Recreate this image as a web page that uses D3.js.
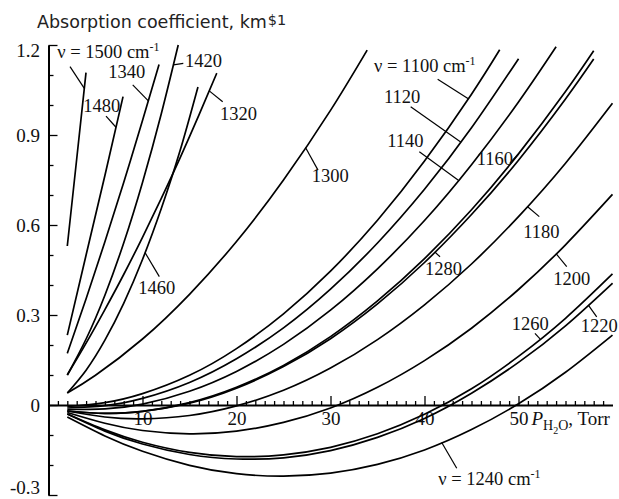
<!DOCTYPE html>
<html>
<head>
<meta charset="utf-8">
<script src="https://cdn.jsdelivr.net/npm/d3@7"></script>
<style>
  body { margin: 0; background: #fff; }
  svg { display: block; }
</style>
</head>
<body>
<svg id="chart" width="619" height="499"></svg>
<script>
// Absorption coefficient (km^-1) against water-vapour pressure (Torr), one curve per wavenumber.
const p1500 = [2, 3, 3.99];
const k1500 = [0.53, 0.82, 1.108];
const p1480 = [2, 4, 6, 7.93];
const k1480 = [0.233, 0.50, 0.765, 1.028];
const p1340 = [2, 4, 6, 8, 10, 11.76];
const k1340 = [0.172, 0.354, 0.544, 0.742, 0.948, 1.135];
const p1420 = [2, 4, 6, 8, 10, 12, 13.8];
const k1420 = [0.10, 0.22, 0.366, 0.54, 0.742, 0.971, 1.20];
const p1460 = [2, 4, 6, 8, 10, 12, 14, 15.9];
const k1460 = [0.04, 0.116, 0.216, 0.339, 0.485, 0.655, 0.848, 1.06];
const p1320 = [2, 4, 6, 8, 10, 12, 14, 16, 17.9];
const k1320 = [0.10, 0.206, 0.318, 0.435, 0.559, 0.689, 0.824, 0.966, 1.106];
const p1300 = [2, 5, 10, 15, 20, 25, 30, 33.9];
const k1300 = [0.04, 0.099, 0.22, 0.369, 0.545, 0.75, 0.982, 1.183];

const p1100 = [2, 6, 10, 15, 20, 25, 30, 35, 40, 45, 48];
const k1100 = [-0.005, 0.008, 0.038, 0.099, 0.188, 0.304, 0.446, 0.616, 0.813, 1.036, 1.184];
const p1120 = [2, 6, 10, 15, 20, 25, 30, 35, 40, 45, 50];
const k1120 = [-0.01, -0.002, 0.022, 0.075, 0.154, 0.257, 0.386, 0.54, 0.719, 0.924, 1.154];
const p1140 = [2, 6, 10, 15, 20, 25, 30, 35, 40, 45, 50, 54];
const k1140 = [-0.015, -0.013, 0.003, 0.046, 0.112, 0.202, 0.316, 0.454, 0.615, 0.801, 1.01, 1.194];
const p1160 = [2, 6, 10, 15, 20, 25, 30, 35, 40, 45, 50, 55, 58];
const k1160 = [-0.02, -0.028, -0.021, 0.008, 0.059, 0.132, 0.228, 0.347, 0.488, 0.651, 0.837, 1.045, 1.181];
const p1280 = [2, 6, 10, 15, 20, 25, 30, 35, 40, 45, 50, 55, 58];
const k1280 = [-0.02, -0.028, -0.021, 0.006, 0.056, 0.128, 0.221, 0.337, 0.475, 0.635, 0.816, 1.02, 1.153];
const pFull = [2, 6, 10, 15, 20, 25, 30, 35, 40, 45, 50, 55, 60];
const k1180 = [-0.02, -0.04, -0.046, -0.035, -0.003, 0.049, 0.123, 0.218, 0.334, 0.47, 0.628, 0.806, 1.006];
const k1200 = [-0.025, -0.061, -0.085, -0.096, -0.087, -0.058, -0.01, 0.059, 0.148, 0.256, 0.385, 0.534, 0.702];
const k1260 = [-0.03, -0.083, -0.124, -0.158, -0.172, -0.166, -0.141, -0.096, -0.031, 0.054, 0.162, 0.289, 0.437];
const k1220 = [-0.03, -0.087, -0.13, -0.165, -0.18, -0.176, -0.152, -0.108, -0.045, 0.039, 0.142, 0.264, 0.406];
const k1240 = [-0.04, -0.103, -0.154, -0.201, -0.229, -0.237, -0.227, -0.198, -0.15, -0.082, 0.004, 0.109, 0.233];

// Axis ticks and labels
const xMinorTicks = d3.range(1, 60);
const xLabelValues = [10, 20, 30, 40, 50];
const yTickValues = [-0.3, -0.2, -0.1, 0, 0.1, 0.2, 0.3, 0.4, 0.5, 0.6, 0.7, 0.8, 0.9, 1.0, 1.1, 1.2];
const yLabelValues = [-0.3, 0, 0.3, 0.6, 0.9, 1.2];
const yLabelText = ["-0.3", "0", "0.3", "0.6", "0.9", "1.2"];

const series = [
  { nu: 1500, p: p1500, k: k1500 }, { nu: 1480, p: p1480, k: k1480 },
  { nu: 1340, p: p1340, k: k1340 }, { nu: 1420, p: p1420, k: k1420 },
  { nu: 1460, p: p1460, k: k1460 }, { nu: 1320, p: p1320, k: k1320 },
  { nu: 1300, p: p1300, k: k1300 }, { nu: 1100, p: p1100, k: k1100 },
  { nu: 1120, p: p1120, k: k1120 }, { nu: 1140, p: p1140, k: k1140 },
  { nu: 1160, p: p1160, k: k1160 }, { nu: 1280, p: p1280, k: k1280 },
  { nu: 1180, p: pFull, k: k1180 }, { nu: 1200, p: pFull, k: k1200 },
  { nu: 1260, p: pFull, k: k1260 }, { nu: 1220, p: pFull, k: k1220 },
  { nu: 1240, p: pFull, k: k1240 }
];

// Curve labels: text anchor (left, baseline), leader start, and pressure where the leader meets its curve
const labelLayout = [
  { nu: 1500, text: "\u03bd = 1500 cm", sup: "-1", at: [0.93, 1.156], from: [2.29, 1.128], to: 3.81 },
  { nu: 1480, text: "1480", at: [3.70, 0.978], from: [6.12, 0.963], to: 7.18 },
  { nu: 1340, text: "1340", at: [6.36, 1.089], from: [8.96, 1.067], to: 10.62 },
  { nu: 1420, text: "1420", at: [14.52, 1.128], from: [14.34, 1.139], to: 13.28 },
  { nu: 1320, text: "1320", at: [18.24, 0.95], from: [18.53, 1.011], to: 17.1 },
  { nu: 1460, text: "1460", at: [9.55, 0.369], from: [11.79, 0.428], to: 10.27 },
  { nu: 1300, text: "1300", at: [28.0, 0.744], from: [28.67, 0.783], to: 27.34 },
  { nu: 1100, text: "\u03bd = 1100 cm", sup: "-1", at: [34.63, 1.111], from: [41.40, 1.086], to: 44.66 },
  { nu: 1120, text: "1120", at: [35.69, 1.006], from: [38.53, 0.994], to: 43.85 },
  { nu: 1140, text: "1140", at: [36.04, 0.861], from: [39.45, 0.844], to: 43.6 },
  { nu: 1160, text: "1160", at: [45.55, 0.80], from: [49.09, 0.806], to: 49.97 },
  { nu: 1180, text: "1180", at: [50.51, 0.556], from: [52.21, 0.628], to: 50.94 },
  { nu: 1280, text: "1280", at: [40.05, 0.433], from: [41.65, 0.494], to: 41.1 },
  { nu: 1200, text: "1200", at: [53.70, 0.40], from: [55.13, 0.461], to: 54.0 },
  { nu: 1260, text: "1260", at: [49.28, 0.25], from: [51.75, 0.239], to: 52.29 },
  { nu: 1220, text: "1220", at: [56.62, 0.244], from: [58.32, 0.294], to: 57.43 },
  { nu: 1240, text: "\u03bd = 1240 cm", sup: "-1", at: [41.47, -0.267], from: [43.43, -0.211], to: 41.83 }
];

const SERIF = '"Liberation Serif", "Times New Roman", serif';
const svg = d3.select("#chart");
const x = d3.scaleLinear().domain([0, 60]).range([48.5, 612.5]);
const y = d3.scaleLinear().domain([-0.3, 1.2]).range([495, 45]);

// Title above the value axis
const title = svg.append("text")
  .attr("x", 37).attr("y", 28)
  .attr("font-family", '"DejaVu Sans", Verdana, sans-serif')
  .attr("font-size", 17.5).attr("fill", "#222");
title.append("tspan").text("Absorption coefficient, km");
title.append("tspan").attr("font-size", 14.5).attr("dx", 1).attr("dy", -3).text("$1");

// Pressure axis: ticks point up into the plot
const gx = svg.append("g").attr("transform", `translate(0,${y(0)})`)
  .call(d3.axisTop(x).tickValues(xMinorTicks).tickSize(4).tickSizeOuter(0).tickFormat(""));
gx.selectAll(".tick line").attr("y2", d => d % 10 === 0 ? -9 : -4).attr("stroke-width", 1.3);
gx.select(".domain").attr("stroke-width", 2);

const gxl = svg.append("g").attr("transform", `translate(0,${y(0)})`)
  .call(d3.axisBottom(x).tickValues(xLabelValues).tickSize(0).tickPadding(6.5).tickFormat(d3.format("d")));
gxl.select(".domain").remove();
gxl.selectAll("text").attr("font-family", SERIF).attr("font-size", 19).attr("fill", "#111");

// Pressure unit label
const unit = svg.append("text")
  .attr("x", 531.5).attr("y", 425)
  .attr("font-family", SERIF).attr("font-size", 19).attr("fill", "#111");
unit.append("tspan").attr("font-style", "italic").text("P");
unit.append("tspan").attr("font-size", 14).attr("dy", 5).text("H");
unit.append("tspan").attr("font-size", 10).attr("dy", 4).text("2");
unit.append("tspan").attr("font-size", 14).attr("dy", -4).text("O");
unit.append("tspan").attr("dy", -5).text(", Torr");

// Value axis: ticks point right into the plot
const isMajor = d => Math.abs(Math.round(d / 0.3) * 0.3 - d) < 1e-6;
const gy = svg.append("g").attr("transform", `translate(${x(0)},0)`)
  .call(d3.axisRight(y).tickValues(yTickValues).tickSize(5).tickSizeOuter(0).tickFormat(""));
gy.selectAll(".tick line").attr("x2", d => isMajor(d) ? 9 : 5).attr("stroke-width", 1.3);
gy.select(".domain").attr("stroke-width", 2);

const gyl = svg.append("g").attr("transform", `translate(${x(0)},0)`)
  .call(d3.axisLeft(y).tickValues(yLabelValues).tickSize(0).tickPadding(8.5)
    .tickFormat((d, i) => yLabelText[i]));
gyl.select(".domain").remove();
gyl.selectAll("text").attr("font-family", SERIF).attr("font-size", 19).attr("fill", "#111")
  .attr("dy", d => d === 1.2 ? "0.62em" : d === -0.3 ? "-0.1em" : "0.32em");

// Curves
const line = d3.line().x(d => x(d[0])).y(d => y(d[1])).curve(d3.curveNatural);
svg.append("g").selectAll("path").data(series).join("path")
  .attr("d", s => line(d3.zip(s.p, s.k)))
  .attr("fill", "none").attr("stroke", "#000").attr("stroke-width", 1.7);

// Value of a curve at a given pressure (linear between readings)
function valueAt(s, p) {
  const i = Math.max(1, Math.min(s.p.length - 1, d3.bisectLeft(s.p, p)));
  const t = (p - s.p[i - 1]) / (s.p[i] - s.p[i - 1]);
  return s.k[i - 1] + t * (s.k[i] - s.k[i - 1]);
}

const byNu = new Map(series.map(s => [s.nu, s]));
const gl = svg.append("g");
labelLayout.forEach(l => {
  const s = byNu.get(l.nu);
  gl.append("line")
    .attr("x1", x(l.from[0])).attr("y1", y(l.from[1]))
    .attr("x2", x(l.to)).attr("y2", y(valueAt(s, l.to)))
    .attr("stroke", "#000").attr("stroke-width", 1.2);
  const t = gl.append("text")
    .attr("x", x(l.at[0])).attr("y", y(l.at[1]))
    .attr("font-family", SERIF).attr("font-size", 18.5).attr("fill", "#111");
  t.append("tspan").text(l.text);
  if (l.sup) t.append("tspan").attr("font-size", 12).attr("dy", -7).text(l.sup);
});
</script>
</body>
</html>
